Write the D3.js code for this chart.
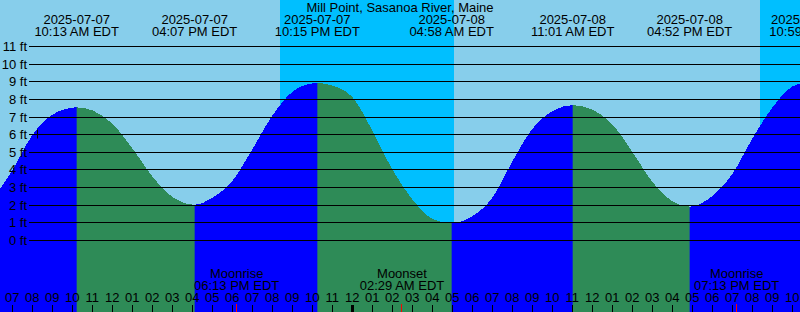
<!DOCTYPE html>
<html><head><meta charset="utf-8">
<script src="https://cdn.jsdelivr.net/npm/d3@7"></script>
<style>
body{margin:0;background:#87CEEB;}
svg{display:block;font-family:"Liberation Sans",Arial,Helvetica,sans-serif;}
</style>
</head><body><svg id="c" width="800" height="312"></svg>
<script>
const title = "Mill Point, Sasanoa River, Maine";
const viewStart = "2025-07-07 06:23";
const viewEnd = "2025-07-08 22:23";

// hourly tide heights (ft)
const sampleTimes = [
"2025-07-07 06:00","2025-07-07 07:00","2025-07-07 08:00","2025-07-07 09:00","2025-07-07 10:00",
"2025-07-07 11:00","2025-07-07 12:00","2025-07-07 13:00","2025-07-07 14:00","2025-07-07 15:00",
"2025-07-07 17:00","2025-07-07 18:00","2025-07-07 19:00","2025-07-07 20:00","2025-07-07 21:00","2025-07-07 22:00",
"2025-07-07 23:00","2025-07-08 00:00","2025-07-08 01:00","2025-07-08 02:00","2025-07-08 03:00","2025-07-08 04:00",
"2025-07-08 06:00","2025-07-08 07:00","2025-07-08 08:00","2025-07-08 09:00","2025-07-08 10:00",
"2025-07-08 12:00","2025-07-08 13:00","2025-07-08 14:00","2025-07-08 15:00","2025-07-08 16:00",
"2025-07-08 18:00","2025-07-08 19:00","2025-07-08 20:00","2025-07-08 21:00","2025-07-08 22:00"];
const sampleHeights = [
2.3,3.95,5.95,7.1,7.5,
7.35,6.6,5.2,3.6,2.45,
2.4,3.35,5.15,7.05,8.4,8.88,
8.75,8.1,6.2,4.0,2.3,1.2,
1.35,2.4,4.45,6.3,7.3,
7.4,6.55,5.0,3.3,2.2,
2.5,3.75,5.75,7.5,8.7];

// high / low tides
const extremeTimes = ["2025-07-07 10:13","2025-07-07 16:07","2025-07-07 22:15","2025-07-08 04:58","2025-07-08 11:01","2025-07-08 16:52","2025-07-08 22:59"];
const extremeHeights = [7.52, 2.0, 8.9, 0.95, 7.65, 1.89, 9.0];
const extremeTypes = ["H","L","H","L","H","L","H"];

// night intervals (sunset -> sunrise)
const nightStarts = ["2025-07-07 20:23","2025-07-08 20:22"];
const nightEnds   = ["2025-07-08 05:05","2025-07-09 05:06"];

// moon events
const moonTimes = ["2025-07-07 18:13","2025-07-08 02:29","2025-07-08 19:13"];
const moonNames = ["Moonrise","Moonset","Moonrise"];

const ftTicks = [0,1,2,3,4,5,6,7,8,9,10,11];
const markerTime = "2025-07-07 08:15";
const markerHeight = 6;

const W = 800, H = 312;
const parse = d3.timeParse("%Y-%m-%d %H:%M");
const fmtDate = d3.timeFormat("%Y-%m-%d");
const fmtTime = d3.timeFormat("%I:%M %p");
const fmtHour = d3.timeFormat("%I");

const x = d3.scaleTime().domain([parse(viewStart), parse(viewEnd)]).range([0, W]);
const y = d3.scaleLinear().domain([0, 11]).range([240, 46]);

const svg = d3.select("#c");

// day background
svg.append("rect").attr("x",0).attr("y",0).attr("width",W).attr("height",H).attr("fill","#87CEEB");
// night background
svg.selectAll("rect.night").data(nightStarts.map((s,i)=>[parse(s),parse(nightEnds[i])]))
  .enter().append("rect").attr("class","night")
  .attr("x",d=>x(d[0])).attr("y",0)
  .attr("width",d=>x(d[1])-x(d[0])).attr("height",H)
  .attr("fill","#00BFFF").attr("shape-rendering","crispEdges");

// tide series
const extremes = extremeTimes.map((t,i)=>({t:parse(t), v:extremeHeights[i], type:extremeTypes[i]}));
const series = sampleTimes.map((t,i)=>({t:parse(t), v:sampleHeights[i]}))
  .concat(extremes.map(e=>({t:e.t, v:e.v})))
  .sort((a,b)=>a.t-b.t);

const area = d3.area().x(d=>x(d.t)).y0(H).y1(d=>y(d.v)).curve(d3.curveMonotoneX);

// clip for falling tide (high -> next low)
const defs = svg.append("defs");
const clip = defs.append("clipPath").attr("id","falling");
for (let i=0;i<extremes.length-1;i++){
  if (extremes[i].type==="H"){
    clip.append("rect").attr("x",x(extremes[i].t)).attr("y",0)
      .attr("width",x(extremes[i+1].t)-x(extremes[i].t)).attr("height",H);
  }
}
svg.append("path").datum(series).attr("d",area).attr("fill","#0000FF").attr("shape-rendering","crispEdges");
svg.append("path").datum(series).attr("d",area).attr("fill","#2E8B57")
  .attr("clip-path","url(#falling)").attr("shape-rendering","crispEdges");

// horizontal grid lines
svg.selectAll("line.grid").data(ftTicks).enter().append("line")
  .attr("x1",29).attr("x2",W)
  .attr("y1",d=>Math.round(y(d))+0.5).attr("y2",d=>Math.round(y(d))+0.5)
  .attr("stroke","#000").attr("stroke-width",1);
svg.selectAll("text.ft").data(ftTicks).enter().append("text")
  .attr("x",27).attr("y",d=>Math.round(y(d))+5)
  .attr("text-anchor","end").attr("font-size",13).attr("fill","#000")
  .text(d=>d+" ft");

// marker
const mx = Math.floor(x(parse(markerTime)))+0.5, my = Math.round(y(markerHeight))+0.5;
svg.append("line").attr("x1",mx).attr("x2",mx).attr("y1",my-5).attr("y2",my+4).attr("stroke","#000");
svg.append("line").attr("x1",mx-5).attr("x2",mx+5).attr("y1",my).attr("y2",my).attr("stroke","#000");

// title
svg.append("text").attr("x",W/2).attr("y",12).attr("text-anchor","middle")
  .attr("font-size",13).attr("fill","#000").text(title);

// tide labels
function placeClamped(sel){
  sel.each(function(){
    const w = this.getComputedTextLength();
    const cx = +this.getAttribute("x");
    if (cx - w/2 > W - 29) this.setAttribute("x", (W - 29) + w/2);
  });
}
const lab = svg.selectAll("g.tl").data(extremes).enter().append("g").attr("class","tl");
lab.append("text").attr("x",d=>x(d.t)).attr("y",24).attr("text-anchor","middle")
  .attr("font-size",13).attr("fill","#000").text(d=>fmtDate(d.t)).call(placeClamped);
lab.append("text").attr("x",d=>x(d.t)).attr("y",36).attr("text-anchor","middle")
  .attr("font-size",13).attr("fill","#000").text(d=>fmtTime(d.t)+" EDT").call(placeClamped);

// moon labels
const moons = moonTimes.map((t,i)=>({t:parse(t), name:moonNames[i]}));
const ml = svg.selectAll("g.ml").data(moons).enter().append("g");
ml.append("text").attr("x",d=>x(d.t)).attr("y",278).attr("text-anchor","middle")
  .attr("font-size",13).attr("fill","#000").text(d=>d.name);
ml.append("text").attr("x",d=>x(d.t)).attr("y",290).attr("text-anchor","middle")
  .attr("font-size",13).attr("fill","#000").text(d=>fmtTime(d.t)+" EDT");

// hour axis
const hours = x.ticks(d3.timeHour.every(1));
svg.selectAll("line.ht").data(hours).enter().append("line")
  .attr("x1",d=>Math.floor(x(d))+0.5).attr("x2",d=>Math.floor(x(d))+0.5)
  .attr("y1",305).attr("y2",H)
  .attr("stroke","#000").attr("stroke-width",d=>d.getHours()===0?3:1);
svg.selectAll("text.hl").data(hours).enter().append("text")
  .attr("x",d=>x(d)).attr("y",302).attr("text-anchor","middle")
  .attr("font-size",13).attr("fill","#000").text(d=>fmtHour(d));
svg.selectAll("line.mt").data(moons).enter().append("line")
  .attr("x1",d=>Math.floor(x(d.t))+0.5).attr("x2",d=>Math.floor(x(d.t))+0.5)
  .attr("y1",304).attr("y2",H).attr("stroke","#FF0000").attr("stroke-width",1);
</script>
</body></html>
